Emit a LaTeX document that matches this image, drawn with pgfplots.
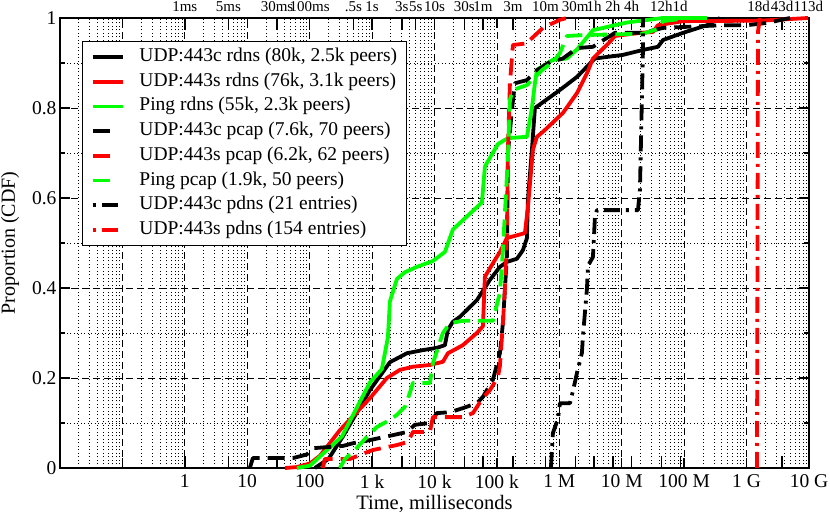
\documentclass[border=0pt]{standalone}
\usepackage{fontspec}
\setmainfont{Liberation Serif}
\usepackage{pgfplots}
\pgfplotsset{compat=1.18}
\definecolor{pgreen}{RGB}{0,255,0}
\definecolor{pred}{RGB}{255,0,0}
\pgfplotsset{
  legsolid/.style={legend image code/.code={\draw[##1] (0pt,0pt)--(30pt,0pt);}},
  legdash/.style={legend image code/.code={\draw[##1] (0pt,0pt)--(17pt,0pt);}},
  legdashdot/.style={legend image code/.code={\draw[##1, dash phase=22pt] (0pt,0pt)--(26pt,0pt);}},
}
\begin{document}
\begin{tikzpicture}[font=\fontsize{19.5}{23}\selectfont]
\useasboundingbox (-60pt,-48pt) rectangle (770pt,468pt);
\begin{axis}[
  at={(0pt,0pt)}, anchor=south west,
  scale only axis, width=749pt, height=450pt,
  xmode=log, log basis x=10,
  xmin=0.01, xmax=1e10, ymin=0, ymax=1,
  clip=false,
  axis line style={line width=1.4pt},
  every tick/.style={black, line width=1.4pt},
  major tick length=10pt, minor tick length=0pt,
  xtick={1e-2,1e-1,1,1e1,1e2,1e3,1e4,1e5,1e6,1e7,1e8,1e9,1e10},
  xticklabels={,,1,10,100,1 k,10 k,100 k,1 M,10 M,100 M,1 G,10 G},
  minor xtick={2e-2,3e-2,4e-2,5e-2,6e-2,7e-2,8e-2,9e-2,
    2e-1,3e-1,4e-1,5e-1,6e-1,7e-1,8e-1,9e-1,
    2,3,4,5,6,7,8,9,
    20,30,40,50,60,70,80,90,
    200,300,400,500,600,700,800,900,
    2e3,3e3,4e3,5e3,6e3,7e3,8e3,9e3,
    2e4,3e4,4e4,5e4,6e4,7e4,8e4,9e4,
    2e5,3e5,4e5,5e5,6e5,7e5,8e5,9e5,
    2e6,3e6,4e6,5e6,6e6,7e6,8e6,9e6,
    2e7,3e7,4e7,5e7,6e7,7e7,8e7,9e7,
    2e8,3e8,4e8,5e8,6e8,7e8,8e8,9e8,
    2e9,3e9,4e9,5e9,6e9,7e9,8e9,9e9},
  extra x ticks={1,5,30,100,500,1000,3000,5000,1e4,3e4,6e4,1.8e5,6e5,1.8e6,3.6e6,7.2e6,1.44e7,4.32e7,8.64e7,1.5552e9,3.7152e9,9.7632e9},
  extra x tick labels={},
  extra x tick style={grid=none, major tick length=12pt},
  ytick={0,0.2,0.4,0.6,0.8,1},
  yticklabels={0,0.2,0.4,0.6,0.8,1},
  extra y ticks={0.1,0.3,0.5,0.7,0.9},
  extra y tick labels={},
  extra y tick style={grid=major, major tick length=5pt, major grid style={black, line width=0.8pt, dash pattern=on 1pt off 2.5pt}},
  xmajorgrids, ymajorgrids, xminorgrids,
  major grid style={black, line width=0.8pt, dash pattern=on 7pt off 4pt},
  minor grid style={black, line width=0.8pt, dash pattern=on 1pt off 2.5pt},
  xticklabel style={yshift=-3pt},
  xlabel={Time, milliseconds},
  ylabel={Proportion (CDF)},
  xlabel style={at={(axis description cs:0.5,-0.08)}, anchor=center, font=\fontsize{20.5}{24}\selectfont},
  ylabel style={at={(axis description cs:-0.0668,0.5)}, anchor=center, font=\fontsize{20}{24}\selectfont},
  legend cell align=left,
  legend style={at={(0.0294,0.9489)}, anchor=north west, draw=black, line width=1.2pt, fill=white,
    font=\fontsize{19.5}{23}\selectfont, row sep=3.7pt, column sep=14pt,
    inner xsep=8pt, inner ysep=5pt,
    nodes={inner sep=1pt, text height=14pt, text depth=5pt}},
]
% UDP:443c rdns
\addplot[black, line width=3.8pt, line join=round, legsolid] coordinates {
(121.2,0) (200,0.02) (340.5,0.07) (921.9,0.173) (1929,0.235) (3612,0.255) (6518,0.262)
(10930,0.267) (14680,0.273) (16400,0.307) (19720,0.325) (25540,0.336) (47810,0.373)
(77240,0.418) (111700,0.447) (144700,0.458) (209200,0.465) (261000,0.484) (302600,0.511)
(314000,0.596) (363800,0.707) (406400,0.80) (1.022e6,0.84) (1.915e6,0.869) (3.720e6,0.91)
(1.045e7,0.918) (2.187e7,0.929) (3.803e7,0.936) (4.574e7,0.951) (9.568e7,0.967)
(2.32e8,0.984) (3.747e8,1.0)};
\addlegendentry{UDP:443c rdns (80k, 2.5k peers)}
% UDP:443s rdns
\addplot[pred, line width=3.8pt, line join=round, legsolid] coordinates {
(40.1,0) (62,0.002) (100.7,0.01) (145.7,0.027) (304.8,0.084) (921.9,0.155) (1727,0.2)
(2789,0.218) (4506,0.225) (8439,0.229) (13630,0.236) (16400,0.255) (28510,0.273)
(47810,0.3) (59640,0.315) (64230,0.425) (86290,0.455) (111700,0.48) (144700,0.511)
(281000,0.522) (314000,0.58) (377500,0.707) (437500,0.736) (546100,0.747) (1.142e6,0.789)
(1.915e6,0.833) (2.770e6,0.877) (3.455e6,0.91) (6.471e6,0.947) (7.781e6,0.96)
(1.957e7,0.967) (3.162e7,0.969) (3.803e7,0.984) (9.568e7,0.993) (1.7e9,0.994) (9.64e9,1.0)};
\addlegendentry{UDP:443s rdns (76k, 3.1k peers)}
% Ping rdns
\addplot[pgreen, line width=3.8pt, line join=round, legsolid] coordinates {
(62.4,0) (100.7,0.005) (328.1,0.07) (921.9,0.19) (1436,0.22) (1792,0.29) (1929,0.37)
(2497,0.42) (3355,0.435) (5223,0.447) (9428,0.46) (14680,0.48) (19720,0.53) (57480,0.59)
(64230,0.67) (103800,0.72) (150100,0.733) (302600,0.736) (363800,0.80) (406400,0.855)
(437500,0.885) (789800,0.907) (1.324e6,0.91) (1.915e6,0.93) (3.455e6,0.973)
(1.212e7,0.99) (4.574e7,1.0) (2.32e8,1.0)};
\addlegendentry{Ping rdns (55k, 2.3k peers)}
% UDP:443c pcap
\addplot[black, line width=3.8pt, line join=round, dash pattern=on 17pt off 8pt, legdash] coordinates {
(11.0,0) (12.3,0.022) (53.8,0.022) (90,0.03) (112.5,0.044) (340.5,0.049) (492.4,0.055)
(921.9,0.062) (2154,0.073) (3612,0.08) (4852,0.096) (8439,0.1) (10930,0.122)
(17650,0.124) (28510,0.133) (47810,0.144) (59640,0.158) (86290,0.196) (111700,0.255)
(124800,0.322) (134400,0.398) (144700,0.471) (150100,0.70) (173900,0.795) (194400,0.855)
(302600,0.862) (437500,0.884) (707100,0.902) (1.142e6,0.91) (1.915e6,0.933)
(3.455e6,0.936) (7.781e6,0.967) (2.187e7,0.967) (4.574e7,0.978) (4.186e8,0.984)
(1.015e9,0.984) (2.123e9,0.989) (4.962e9,1.0)};
\addlegendentry{UDP:443c pcap (7.6k, 70 peers)}
% UDP:443s pcap
\addplot[pred, line width=3.8pt, line join=round, dash pattern=on 17pt off 8pt, legdash] coordinates {
(162.7,0) (175.2,0.02) (440.9,0.02) (637.6,0.029) (1030,0.04) (2497,0.051) (3747,0.058)
(4506,0.08) (8439,0.08) (9428,0.113) (28510,0.113) (41260,0.122) (59640,0.156)
(77240,0.173) (103800,0.202) (111700,0.227) (124800,0.322) (134400,0.398) (144700,0.522)
(150100,0.707) (161600,0.855) (180500,0.94) (314000,0.944) (338000,0.951)
(546100,0.978) (1.022e6,0.996) (1.324e6,1.0)};
\addlegendentry{UDP:443s pcap (6.2k, 62 peers)}
% Ping pcap
\addplot[pgreen, line width=3.8pt, line join=round, dash pattern=on 17pt off 8pt, legdash] coordinates {
(304.8,0) (366.6,0.02) (530.2,0.04) (825.4,0.069) (1194,0.091) (1929,0.107) (2497,0.118)
(3355,0.136) (4035,0.167) (4506,0.189) (8439,0.189) (9428,0.233) (13630,0.3)
(17650,0.322) (28510,0.327) (86290,0.327) (111700,0.39) (124800,0.484) (150100,0.692)
(161600,0.818) (180500,0.84) (302600,0.851) (526300,0.884) (789800,0.902)
(1.022e6,0.922) (1.324e6,0.96) (2.389e6,0.962) (2.187e7,0.965) (3.665e7,0.975)
(4.574e7,0.993) (1.109e8,1.0)};
\addlegendentry{Ping pcap (1.9k, 50 peers)}
% UDP:443c pdns
\addplot[black, line width=3.8pt, line join=round, dash pattern=on 16pt off 6pt on 3pt off 6pt, legdashdot] coordinates {
(7.338e5,0) (7.898e5,0.078) (9.497e5,0.109) (1.022e6,0.144) (1.479e6,0.144) (1.652e6,0.171)
(1.915e6,0.211) (2.302e6,0.256) (2.389e6,0.293) (2.770e6,0.398) (2.873e6,0.449)
(3.455e6,0.469) (3.720e6,0.558) (4.005e6,0.573) (1.818e7,0.573) (1.957e7,0.618)
(2.187e7,0.93) (2.187e7,1.0)};
\addlegendentry{UDP:443c pdns (21 entries)}
% UDP:443s pdns
\addplot[pred, line width=3.8pt, line join=round, dash pattern=on 16pt off 6pt on 3pt off 6pt, legdashdot] coordinates {
(1.468e9,0) (1.523e9,0.97) (1.64e9,1.0)};
\addlegendentry{UDP:443s pdns (154 entries)}
\end{axis}
\begin{axis}[
  at={(0pt,0pt)}, anchor=south west,
  scale only axis, width=749pt, height=450pt,
  xmode=log, log basis x=10,
  xmin=0.01, xmax=1e10, ymin=0, ymax=1,
  axis x line*=top, axis y line=none,
  axis line style={draw=none},
  major tick length=0pt, minor tick length=0pt,
  xtick={1,5,30,100,500,1000,3000,5000,1e4,3e4,6e4,1.8e5,6e5,1.8e6,3.6e6,7.2e6,1.44e7,4.32e7,8.64e7,1.5552e9,3.7152e9,9.7632e9},
  xticklabels={1ms,5ms,30ms,100ms,.5s,1s,3s,5s,10s,30s,1m,3m,10m,30m,1h,2h,4h,12h,1d,18d,43d,113d},
  xticklabel style={font=\fontsize{15}{17}\selectfont, inner sep=0pt, yshift=6pt},
  ytick=\empty,
]
\end{axis}
\end{tikzpicture}
\end{document}
